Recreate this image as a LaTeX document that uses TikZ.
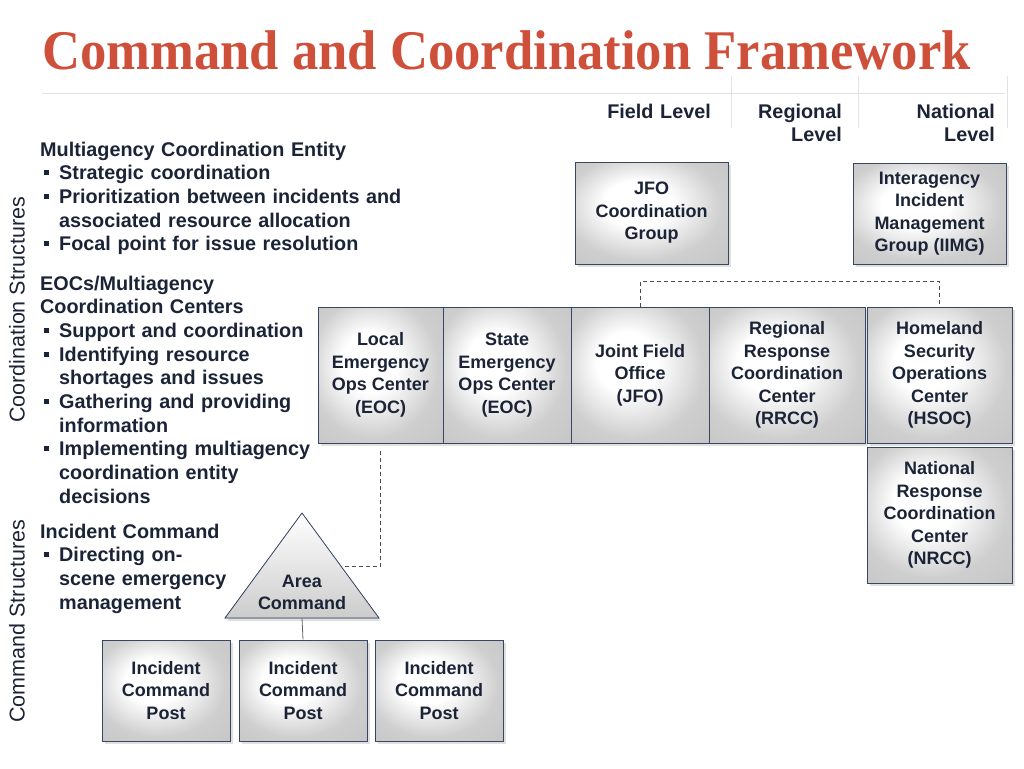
\documentclass[tikz,border=0pt]{standalone}
\usepackage{graphicx}
\usepackage{fontspec}
\setmainfont{Liberation Sans}
\newfontfamily\titlefont{Liberation Serif}
\usetikzlibrary{calc,shadows}
\definecolor{titlered}{RGB}{207,80,58}
\definecolor{ink}{RGB}{27,36,54}
\definecolor{boxline}{RGB}{52,72,100}
\definecolor{rulegray}{RGB}{226,226,230}
\pgfdeclareradialshading{boxglow}{\pgfpoint{-6bp}{6bp}}{color(0bp)=(white); color(11bp)=(white); color(26bp)=(black!19); color(50bp)=(black!26)}
\newcommand{\sqbul}{\makebox[19pt][l]{\hspace{4pt}\rule[4.5pt]{5pt}{5pt}}}
\newcommand{\bulind}{\hspace*{19pt}}
\newcommand{\bodyfont}{\fontsize{19.8}{23.7}\selectfont\bfseries}
\newcommand{\boxfont}{\fontsize{18}{22.5}\selectfont\bfseries}

\begin{document}
\begin{tikzpicture}[x=1pt,y=-1pt,
    unitbox/.style={draw=boxline,line width=1pt,shading=boxglow,
      drop shadow={shadow xshift=3pt,shadow yshift=-3pt,fill=black!12,opacity=1},
      text=ink,font=\boxfont,align=center,inner sep=0pt},
    bodytext/.style={anchor=base west,text width=390pt,align=left,inner sep=0pt,text=ink,font=\bodyfont},
    levellbl/.style={anchor=base east,text width=140pt,align=right,inner sep=0pt,text=ink,font=\bodyfont},
    sidelabel/.style={rotate=90,inner sep=0pt,text=ink,font=\fontsize{21.5}{24}\selectfont},
    dashlink/.style={draw=black!70,line width=0.8pt,dash pattern=on 4pt off 3pt},
    thinlink/.style={draw=black!60,line width=0.8pt},
    areatri/.style={draw=boxline,line width=0.8pt,top color=white,bottom color=black!20,
      drop shadow={shadow xshift=2pt,shadow yshift=-3pt,fill=black!12,opacity=1}}]
		\useasboundingbox (0,0) rectangle (1024,768);
		% title and header rules
		\node[anchor=base west,inner sep=0pt,text=titlered,font=\titlefont\bfseries\fontsize{56}{60}\selectfont] (title) at (42,70) {\scalebox{0.94}[1]{Command and Coordination Framework}};
		\draw[rulegray,line width=1pt] (42,93) -- (1005,93);
		\foreach \x in {731,858,1007}
			\draw[rulegray,line width=1pt] (\x,76) -- (\x,128);
		% level headings
		\node[levellbl] (field) at (711,118) {Field Level};
		\node[levellbl] (regional) at (842,118) {Regional\\Level};
		\node[levellbl] (national) at (995,118) {National\\Level};
		% side labels
		\node[sidelabel] (coordlbl) at (17,310) {Coordination Structures};
		\node[sidelabel] (cmdlbl) at (17,621) {Command Structures};
		% left text blocks
		\node[bodytext] (mace) at (40,156) {Multiagency Coordination Entity\\
			\sqbul Strategic coordination\\
			\sqbul Prioritization between incidents and\\
			\bulind associated resource allocation\\
			\sqbul Focal point for issue resolution};
		\node[bodytext] (eocs) at (40,290) {EOCs/Multiagency\\
			Coordination Centers\\
			\sqbul Support and coordination\\
			\sqbul Identifying resource\\
			\bulind shortages and issues\\
			\sqbul Gathering and providing\\
			\bulind information\\
			\sqbul Implementing multiagency\\
			\bulind coordination entity\\
			\bulind decisions};
		\node[bodytext] (inccmd) at (40,538) {Incident Command\\
			\sqbul Directing on-\\
			\bulind scene emergency\\
			\bulind management};
		% coordination boxes
		\node[unitbox,minimum width=153pt,minimum height=102pt] (jfocg) at (651.5,213) {JFO\\Coordination\\Group};
		\node[unitbox,minimum width=153pt,minimum height=101pt] (iimg) at (929.5,213.5) {Interagency\\Incident\\Management\\Group (IIMG)};
		\node[unitbox,minimum width=125pt,minimum height=136pt] (leoc) at (380.5,375) {Local\\Emergency\\Ops Center\\(EOC)};
		\node[unitbox,minimum width=128pt,minimum height=136pt] (seoc) at (507,375) {State\\Emergency\\Ops Center\\(EOC)};
		\node[unitbox,minimum width=138pt,minimum height=136pt] (jfo) at (640,375) {Joint Field\\Office\\(JFO)};
		\node[unitbox,minimum width=156pt,minimum height=136pt] (rrcc) at (787,375) {Regional\\Response\\Coordination\\Center\\(RRCC)};
		\node[unitbox,minimum width=145pt,minimum height=136pt] (hsoc) at (939.5,375) {Homeland\\Security\\Operations\\Center\\(HSOC)};
		\node[unitbox,minimum width=145pt,minimum height=136pt] (nrcc) at (939.5,515) {National\\Response\\Coordination\\Center\\(NRCC)};
		% area command triangle
		\coordinate (acapex) at (302,513);
		\coordinate (acleft) at (225,618);
		\coordinate (acright) at (379,618);
		\filldraw[areatri] (acapex) -- (acright) -- (acleft) -- cycle;
		\node[text=ink,font=\boxfont,align=center,inner sep=0pt] (area) at (302,592.5) {Area\\Command};
		\coordinate (acside) at ($(acapex)!0.505!(acright)$);
		\coordinate (acbase) at ($(acleft)!0.5!(acright)$);
		% incident command posts
		\foreach \name/\cx in {icpa/166,icpb/303,icpc/439}
			\node[unitbox,minimum width=128pt,minimum height=101pt] (\name) at (\cx,690.5) {Incident\\Command\\Post};
		% connectors
		\draw[dashlink] (jfo.north) -- ++(0,-25) -| (hsoc.north);
		\draw[dashlink,shorten <=7pt] (leoc.south) |- (acside);
		\draw[thinlink] (acbase) -- (icpb.north);
	\end{tikzpicture}
\end{document}
